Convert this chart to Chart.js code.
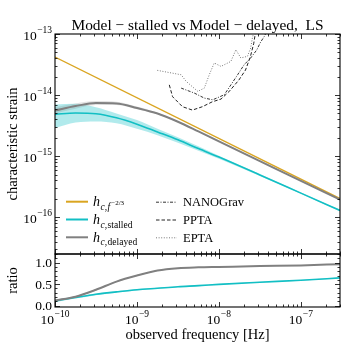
<!DOCTYPE html>
<html><head><meta charset="utf-8">
<script src="https://cdn.jsdelivr.net/npm/chart.js@4.4.1/dist/chart.umd.min.js"></script>
<style>
html,body{margin:0;padding:0;background:#fff;width:344px;height:344px;overflow:hidden}
#top{position:absolute;left:0;top:0;width:344px;height:264px}
#bot{position:absolute;left:0;top:244px;width:344px;height:100px}
</style></head><body>
<canvas id="top" width="344" height="264"></canvas>
<canvas id="bot" width="344" height="100"></canvas>
<script>
// ---------- data ----------
const freq = [1e-10, 1.78e-10, 3.16e-10, 5.62e-10, 1e-9, 1.78e-9, 3.16e-9, 5.62e-9, 1e-8, 3.16e-8, 1e-7, 3e-7];
const hStalled   = [4.83e-15, 5.1e-15, 4.95e-15, 4.25e-15, 3.34e-15, 2.49e-15, 1.85e-15, 1.33e-15, 9.66e-16, 4.92e-16, 2.48e-16, 1.29e-16];
const hStalledHi = [6.98e-15, 7.2e-15, 6.3e-15, 5.0e-15, 3.9e-15, 2.8e-15, 2.04e-15, 1.45e-15, 1.02e-15, 5.1e-16, 2.54e-16, 1.32e-16];
const hStalledLo = [2.9e-15, 3.55e-15, 3.7e-15, 3.45e-15, 2.8e-15, 2.2e-15, 1.66e-15, 1.23e-15, 9.1e-16, 4.73e-16, 2.42e-16, 1.26e-16];
const hDelayed   = [5.6e-15, 6.6e-15, 7.4e-15, 7.3e-15, 6.15e-15, 4.99e-15, 3.66e-15, 2.54e-15, 1.75e-15, 8.3e-16, 3.93e-16, 1.95e-16];
const hDelayedHi = [6.3e-15, 7.3e-15, 8.0e-15, 7.8e-15, 6.5e-15, 5.15e-15, 3.72e-15, 2.57e-15, 1.77e-15, 8.4e-16, 3.97e-16, 1.97e-16];
const hDelayedLo = [5.0e-15, 6.0e-15, 6.9e-15, 6.9e-15, 5.85e-15, 4.85e-15, 3.6e-15, 2.51e-15, 1.73e-15, 8.2e-16, 3.89e-16, 1.93e-16];
const fPow = [1e-10, 3e-7];
const hPow = [4.2e-14, 2.02e-16];

const rDelayed   = [0.12, 0.21, 0.37, 0.56, 0.70, 0.815, 0.87, 0.89, 0.90, 0.92, 0.935, 0.965];
const rDelayedHi = [0.135, 0.225, 0.385, 0.575, 0.712, 0.825, 0.878, 0.897, 0.907, 0.926, 0.94, 0.97];
const rDelayedLo = [0.105, 0.195, 0.355, 0.545, 0.688, 0.805, 0.862, 0.883, 0.893, 0.914, 0.93, 0.96];
const rStalled   = [0.11, 0.19, 0.265, 0.32, 0.37, 0.405, 0.44, 0.465, 0.495, 0.545, 0.59, 0.645];
const rStalledHi = [0.14, 0.215, 0.285, 0.337, 0.385, 0.418, 0.452, 0.476, 0.505, 0.554, 0.598, 0.652];
const rStalledLo = [0.08, 0.165, 0.245, 0.303, 0.355, 0.392, 0.428, 0.454, 0.485, 0.536, 0.582, 0.638];

const fNANOGrav = [3.46e-9, 5.0e-9, 6.63e-9, 8.4e-9, 1.16e-8, 1.40e-8, 1.69e-8, 2.03e-8, 2.44e-8, 2.89e-8, 3.23e-8, 3.61e-8, 3.82e-8];
const hNANOGrav = [1.30e-14, 1.08e-14, 8.93e-15, 8.37e-15, 1.01e-14, 1.47e-14, 2.15e-14, 3.14e-14, 4.05e-14, 5.47e-14, 7.4e-14, 9.3e-14, 1.12e-13];
const fPPTA = [2.48e-9, 2.72e-9, 3.59e-9, 4.75e-9, 6.28e-9, 8.3e-9, 1.06e-8, 1.32e-8, 1.75e-8, 2.11e-8, 2.42e-8, 2.66e-8, 2.79e-8];
const hPPTA = [1.47e-14, 9.4e-15, 6.45e-15, 5.68e-15, 6.45e-15, 7.76e-15, 8.6e-15, 1.13e-14, 1.76e-14, 2.57e-14, 4.25e-14, 7.05e-14, 1.05e-13];
const fEPTA = [1.77e-9, 3.46e-9, 3.98e-9, 5.52e-9, 6.63e-9, 7.62e-9, 8.77e-9, 1.06e-8, 1.40e-8, 1.61e-8, 1.85e-8, 2.23e-8, 2.44e-8, 2.56e-8, 2.68e-8];
const hEPTA = [2.54e-14, 2.15e-14, 1.68e-14, 1.15e-14, 1.30e-14, 2.15e-14, 3.35e-14, 2.95e-14, 3.56e-14, 5.53e-14, 4.05e-14, 4.31e-14, 5.89e-14, 8.6e-14, 1.12e-13];

const yTickExp = [-13, -14, -15, -16];
const xTickExp = [-10, -9, -8, -7];
const ratioTicks = [0.0, 0.5, 1.0];
const titleText = 'Model \u2212 stalled vs Model \u2212 delayed,  LS';
const seriesNames = ['NANOGrav', 'PPTA', 'EPTA'];

// ---------- styles ----------
const FONT = "'Liberation Serif', 'DejaVu Serif', serif";
const ORANGE = '#DAA520', CYAN = '#12BFC4', GREY = '#808080';
const CYAN_BAND = 'rgba(18,191,196,0.33)', GREY_BAND = 'rgba(128,128,128,0.22)';
Chart.defaults.font.family = FONT;
Chart.defaults.color = '#000';

const pts = (xs, ys) => xs.map((x, i) => ({x, y: ys[i]}));

function line(data, color, width, order, extra) {
  return Object.assign({data, borderColor: color, borderWidth: width, pointRadius: 0, fill: false,
    cubicInterpolationMode: 'monotone', order}, extra || {});
}
function band(hi, lo, color, order) {
  return [
    {data: hi, borderWidth: 0, borderColor: 'transparent', backgroundColor: color, pointRadius: 0, fill: '+1', cubicInterpolationMode: 'monotone', order},
    {data: lo, borderWidth: 0, borderColor: 'transparent', backgroundColor: color, pointRadius: 0, fill: false, cubicInterpolationMode: 'monotone', order}
  ];
}

// ---------- drawing helpers ----------
function powLabel(ctx, x, y, e, align) {
  const base = '10', ex = '\u2212' + Math.abs(e);
  ctx.font = '13.5px ' + FONT;
  const wb = ctx.measureText(base).width;
  ctx.font = '9.5px ' + FONT;
  const we = ctx.measureText(ex).width;
  const w = wb + we + 0.5;
  let x0 = align === 'right' ? x - w : x - w / 2;
  ctx.textAlign = 'left'; ctx.textBaseline = 'middle';
  ctx.font = '13.5px ' + FONT;
  ctx.fillText(base, x0, y + 2);
  ctx.font = '9.5px ' + FONT;
  ctx.fillText(ex, x0 + wb + 0.5, y - 4);
}

function logVals(min, max) {
  const out = [];
  for (let e = Math.floor(Math.log10(min)); e <= Math.ceil(Math.log10(max)); e++) {
    for (let m = 1; m <= 9; m++) {
      const v = m * Math.pow(10, e);
      if (v >= min * 0.9999 && v <= max * 1.0001) out.push({v, major: m === 1});
    }
  }
  return out;
}

function drawFrameTicks(chart, yLinear) {
  const {ctx, chartArea: a, scales} = chart;
  ctx.save();
  ctx.strokeStyle = '#000';
  ctx.lineWidth = 0.8;
  const xs = scales.x;
  logVals(xs.min, xs.max).forEach(t => {
    const p = Math.round(xs.getPixelForValue(t.v)) + 0.5;
    const L = t.major ? 5 : 2.5;
    ctx.beginPath();
    ctx.moveTo(p, a.bottom); ctx.lineTo(p, a.bottom - L);
    ctx.moveTo(p, a.top); ctx.lineTo(p, a.top + L);
    ctx.stroke();
  });
  const ys = scales.y;
  let yt;
  if (yLinear) {
    yt = [];
    for (let i = 0; i <= 12; i++) yt.push({v: i / 10, major: i % 5 === 0});
  } else {
    yt = logVals(ys.min, ys.max);
  }
  yt.forEach(t => {
    const p = Math.round(ys.getPixelForValue(t.v)) + 0.5;
    if (p < a.top - 0.1 || p > a.bottom + 0.6) return;
    const L = t.major ? 5 : 2.5;
    ctx.beginPath();
    ctx.moveTo(a.left, p); ctx.lineTo(a.left + L, p);
    ctx.moveTo(a.right, p); ctx.lineTo(a.right - L, p);
    ctx.stroke();
  });
  ctx.lineWidth = 1.1;
  ctx.strokeRect(a.left, a.top, a.right - a.left, a.bottom - a.top);
  ctx.restore();
}

const topDecor = {
  id: 'topDecor',
  afterDraw(chart) {
    const {ctx, chartArea: a, scales} = chart;
    drawFrameTicks(chart, false);
    ctx.save();
    ctx.fillStyle = '#000';
    yTickExp.forEach(e => powLabel(ctx, a.left - 3, scales.y.getPixelForValue(Math.pow(10, e)), e, 'right'));
    // title
    ctx.font = '15.4px ' + FONT;
    ctx.textAlign = 'center'; ctx.textBaseline = 'alphabetic';
    ctx.fillText(titleText, (a.left + a.right) / 2, 30);
    // legend
    const rows = [201.7, 219.5, 237.3];
    const c1 = [66, 88, 93], c2 = [156, 177, 183];
    const cols = [ORANGE, CYAN, GREY];
    const subs = ['f', 'stalled', 'delayed'];
    rows.forEach((ry, i) => {
      ctx.strokeStyle = cols[i]; ctx.lineWidth = 2; ctx.setLineDash([]);
      ctx.beginPath(); ctx.moveTo(c1[0], ry); ctx.lineTo(c1[1], ry); ctx.stroke();
      let x = c1[2];
      ctx.textAlign = 'left'; ctx.textBaseline = 'alphabetic';
      ctx.font = 'italic 14px ' + FONT;
      ctx.fillText('h', x, ry + 4.5); x += ctx.measureText('h').width + 0.5;
      ctx.font = 'italic 9.5px ' + FONT;
      ctx.fillText('c', x, ry + 8); x += ctx.measureText('c').width;
      ctx.font = '9.5px ' + FONT;
      ctx.fillText(',', x, ry + 8); x += ctx.measureText(',').width + 0.5;
      if (i === 0) {
        ctx.font = 'italic 9.5px ' + FONT;
        ctx.fillText('f', x, ry + 8); x += ctx.measureText('f').width + 1;
        ctx.font = '7px ' + FONT;
        ctx.fillText('\u22122/3', x, ry + 3);
      } else {
        ctx.font = '9.5px ' + FONT;
        ctx.fillText(subs[i], x, ry + 8);
      }
      // right column
      const dashes = [[3, 1.5, 1, 1.5], [3.5, 2], [1, 1.6]];
      const dcol = ['#333', '#222', '#777'];
      ctx.strokeStyle = dcol[i]; ctx.lineWidth = 1; ctx.setLineDash(dashes[i]);
      ctx.beginPath(); ctx.moveTo(c2[0], ry + 0.5); ctx.lineTo(c2[1], ry + 0.5); ctx.stroke();
      ctx.setLineDash([]);
      ctx.font = '12.5px ' + FONT; ctx.textBaseline = 'middle';
      ctx.fillText(seriesNames[i], c2[2], ry + 1);
    });
    ctx.restore();
  }
};

const botDecor = {
  id: 'botDecor',
  afterDraw(chart) {
    const {ctx, chartArea: a, scales} = chart;
    drawFrameTicks(chart, true);
    ctx.save();
    ctx.fillStyle = '#000';
    ctx.font = '13.5px ' + FONT; ctx.textAlign = 'right'; ctx.textBaseline = 'middle';
    ratioTicks.forEach(v => ctx.fillText(v.toFixed(1), a.left - 3, scales.y.getPixelForValue(v) + 1));
    xTickExp.forEach(e => powLabel(ctx, scales.x.getPixelForValue(Math.pow(10, e)), a.bottom + 11, e, 'center'));
    ctx.restore();
  }
};

new Chart(document.getElementById('top'), {
  type: 'line',
  data: {datasets: [
    line(pts(fNANOGrav, hNANOGrav), '#333', 1, 0, {borderDash: [3, 1.5, 1, 1.5], cubicInterpolationMode: 'default'}),
    line(pts(fPPTA, hPPTA), '#222', 1, 0, {borderDash: [3.5, 2], cubicInterpolationMode: 'default'}),
    line(pts(fEPTA, hEPTA), '#777', 1, 0, {borderDash: [1, 1.6], cubicInterpolationMode: 'default'}),
    line(pts(freq, hDelayed), GREY, 2, 1),
    line(pts(freq, hStalled), CYAN, 1.6, 2),
    line(pts(fPow, hPow), ORANGE, 1.3, 3),
    ...band(pts(freq, hDelayedHi), pts(freq, hDelayedLo), GREY_BAND, 9),
    ...band(pts(freq, hStalledHi), pts(freq, hStalledLo), CYAN_BAND, 10)
  ]},
  options: {
    responsive: false, animation: false, parsing: false, normalized: true,
    layout: {padding: {left: 0, right: 4, top: 34, bottom: 8}},
    plugins: {legend: {display: false}, tooltip: {enabled: false}},
    scales: {
      x: {type: 'logarithmic', min: 1e-10, max: 3e-7, grid: {display: false}, border: {display: false},
          ticks: {display: false}, afterFit(s) { s.height = 2; }},
      y: {type: 'logarithmic', min: 2.5e-17, max: 1e-13, grid: {display: false}, border: {display: false},
          ticks: {display: false},
          title: {display: true, text: 'characteristic strain', font: {size: 14.5, family: FONT}, padding: {top: 4, bottom: 0}},
          afterFit(s) { s.width = 55; }}
    }
  },
  plugins: [topDecor]
});

new Chart(document.getElementById('bot'), {
  type: 'line',
  data: {datasets: [
    line(pts(freq, rDelayed), GREY, 2, 1),
    line(pts(freq, rStalled), CYAN, 1.6, 2),
    ...band(pts(freq, rDelayedHi), pts(freq, rDelayedLo), GREY_BAND, 9),
    ...band(pts(freq, rStalledHi), pts(freq, rStalledLo), CYAN_BAND, 10)
  ]},
  options: {
    responsive: false, animation: false, parsing: false,
    layout: {padding: {left: 0, right: 4, top: 10, bottom: 0}},
    plugins: {legend: {display: false}, tooltip: {enabled: false}},
    scales: {
      x: {type: 'logarithmic', min: 1e-10, max: 3e-7, grid: {display: false}, border: {display: false},
          ticks: {display: false},
          title: {display: true, text: 'observed frequency [Hz]', font: {size: 14.5, family: FONT}, padding: {top: 0, bottom: 0}},
          afterFit(s) { s.height = 37; }},
      y: {type: 'linear', min: -0.03, max: 1.2, grid: {display: false}, border: {display: false},
          ticks: {display: false},
          title: {display: true, text: 'ratio', font: {size: 14.5, family: FONT}, padding: {top: 4, bottom: 0}},
          afterFit(s) { s.width = 55; }}
    }
  },
  plugins: [botDecor]
});
</script>
</body></html>
